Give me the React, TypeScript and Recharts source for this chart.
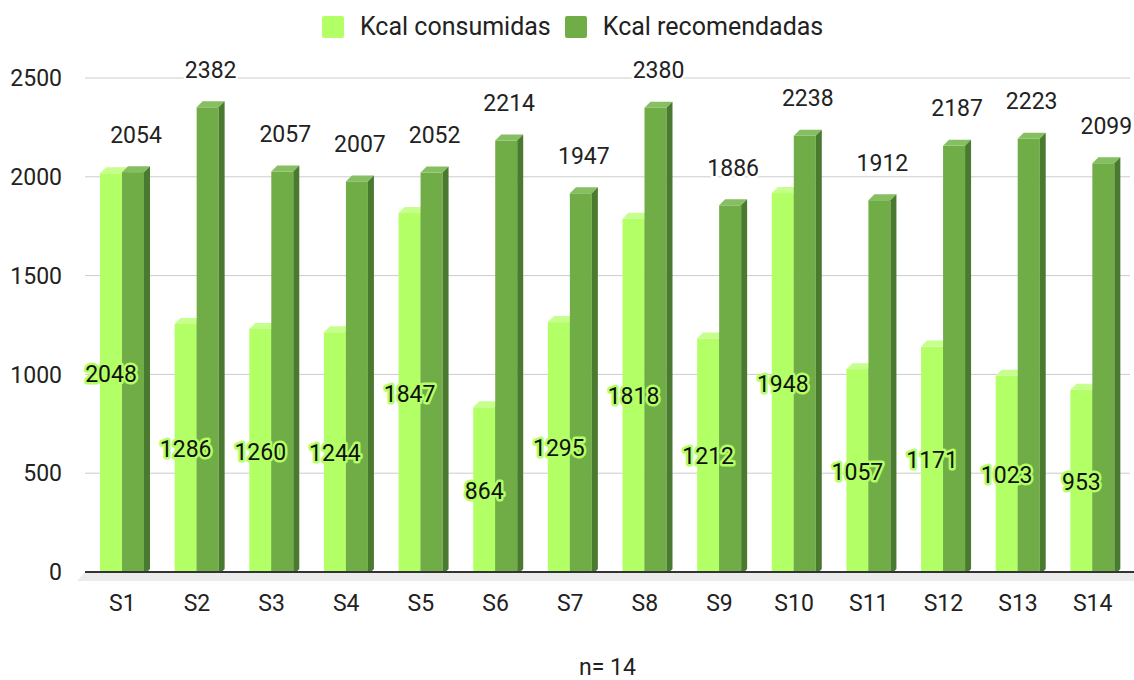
import React from "react";
import { Bar, BarChart, CartesianGrid, LabelList, ReferenceLine, XAxis, YAxis } from "recharts";

const categories = ["S1", "S2", "S3", "S4", "S5", "S6", "S7", "S8", "S9", "S10", "S11", "S12", "S13", "S14"];
const consumidas = [2048, 1286, 1260, 1244, 1847, 864, 1295, 1818, 1212, 1948, 1057, 1171, 1023, 953];
const recomendadas = [2054, 2382, 2057, 2007, 2052, 2214, 1947, 2380, 1886, 2238, 1912, 2187, 2223, 2099];
const yTicks = [0, 500, 1000, 1500, 2000, 2500];

const data = categories.map((name, i) => ({ name, cons: consumidas[i], rec: recomendadas[i] }));

const FONT = "Roboto, 'Liberation Sans', sans-serif";
const DEPTH = 6;

const colors = {
    cons: { front: "#b3ff66", side: "#8fcc52", top: "#c6ff8c" },
    rec: { front: "#70ad47", side: "#4a7a2f", top: "#86be62" },
};

function Bar3D(props: any) {
    const { x, y, width, height, palette } = props;
    if (width == null || height == null) return null;
    const d = DEPTH;
    const base = y + height;
    const fy = y + d;
    const fb = base + 3;
    return (
        <g>
            <rect x={x} y={fy} width={width} height={Math.max(fb - fy, 0)} fill={palette.front} />
            <polygon
                points={`${x},${fy} ${x + d},${y} ${x + width + d},${y} ${x + width},${fy}`}
                fill={palette.top}
            />
            <polygon
                points={`${x + width},${fy} ${x + width + d},${y} ${x + width + d},${base - 3} ${x + width},${fb}`}
                fill={palette.side}
            />
        </g>
    );
}

function box(props: any) {
    const vb = props.viewBox || {};
    return {
        x: props.x ?? vb.x,
        y: props.y ?? vb.y,
        width: props.width ?? vb.width,
        height: props.height ?? vb.height,
    };
}

function RecLabel(props: any) {
    const { x, y, width } = box(props);
    if (x == null) return null;
    return (
        <text
            x={x + width / 2 + 3}
            y={y - 31}
            textAnchor="middle"
            dominantBaseline="central"
            fontFamily={FONT}
            fontSize={23}
            fill="#222"
            stroke="#fff"
            strokeWidth={5}
            strokeLinejoin="round"
            paintOrder="stroke"
        >
            {props.value}
        </text>
    );
}

function ConsLabel(props: any) {
    const { x, y, width, height } = box(props);
    const idx = props.index;
    if (x == null || idx == null) return null;
    const base = y + height;
    const scale = height / recomendadas[idx];
    const top = base - consumidas[idx] * scale;
    const cy = (top + DEPTH + base + 3) / 2;
    return (
        <text
            x={x - width / 2}
            y={cy}
            textAnchor="middle"
            dominantBaseline="central"
            fontFamily={FONT}
            fontSize={23}
            fill="#111"
            stroke="#b3ff66"
            strokeWidth={5}
            strokeLinejoin="round"
            paintOrder="stroke"
        >
            {consumidas[idx]}
        </text>
    );
}

function Floor(props: any) {
    const { x1, y1, x2 } = props;
    return (
        <g>
            <polygon points={`${x1},${y1} ${x2 + 4},${y1} ${x2 + 4},${y1 + 9} ${x1 - 8},${y1 + 9}`} fill="#ebebeb" />
            <line x1={x1} y1={y1} x2={x2 + 4} y2={y1} stroke="#333" strokeWidth={2} />
        </g>
    );
}

function LegendItem({ color, label }: { color: string; label: string }) {
    return (
        <div style={{ display: "flex", alignItems: "center", marginRight: 14 }}>
            <div style={{ width: 22, height: 22, background: color, borderRadius: 2, marginRight: 16 }} />
            <span>{label}</span>
        </div>
    );
}

export default function App() {
    return (
        <div style={{ position: "relative", width: 1134, height: 680, background: "#fff", fontFamily: FONT }}>
            <style>{"body{margin:0}"}</style>
            <div
                style={{
                    position: "absolute",
                    left: 322,
                    top: 13,
                    display: "flex",
                    fontSize: 25,
                    color: "#222",
                    lineHeight: "28px",
                }}
            >
                <LegendItem color={colors.cons.front} label="Kcal consumidas" />
                <LegendItem color={colors.rec.front} label="Kcal recomendadas" />
            </div>
            <BarChart
                width={1134}
                height={680}
                data={data}
                margin={{ top: 78, right: 4, bottom: 0, left: 0 }}
                barSize={22}
                barGap={0}
            >
                <CartesianGrid vertical={false} stroke="#cccccc" />
                <ReferenceLine y={0} shape={(p: any) => <Floor {...p} />} />
                <XAxis
                    dataKey="name"
                    height={108}
                    axisLine={false}
                    tickLine={false}
                    tickMargin={17}
                    tick={{ fontFamily: FONT, fontSize: 23, fill: "#222" }}
                    label={{
                        value: "n= 14",
                        position: "insideBottom",
                        offset: 5,
                        style: { fontFamily: FONT, fontSize: 23, fill: "#222" },
                    }}
                />
                <YAxis
                    width={85}
                    domain={[0, 2500]}
                    ticks={yTicks}
                    axisLine={false}
                    tickLine={false}
                    tickMargin={17}
                    tick={{ fontFamily: FONT, fontSize: 23, fill: "#222" }}
                />
                <Bar
                    dataKey="cons"
                    name="Kcal consumidas"
                    fill={colors.cons.front}
                    isAnimationActive={false}
                    shape={(p: any) => <Bar3D {...p} palette={colors.cons} />}
                />
                <Bar
                    dataKey="rec"
                    name="Kcal recomendadas"
                    fill={colors.rec.front}
                    isAnimationActive={false}
                    shape={(p: any) => <Bar3D {...p} palette={colors.rec} />}
                >
                    <LabelList dataKey="rec" content={(p: any) => <RecLabel {...p} />} />
                    <LabelList dataKey="cons" content={(p: any) => <ConsLabel {...p} />} />
                </Bar>
            </BarChart>
        </div>
    );
}
